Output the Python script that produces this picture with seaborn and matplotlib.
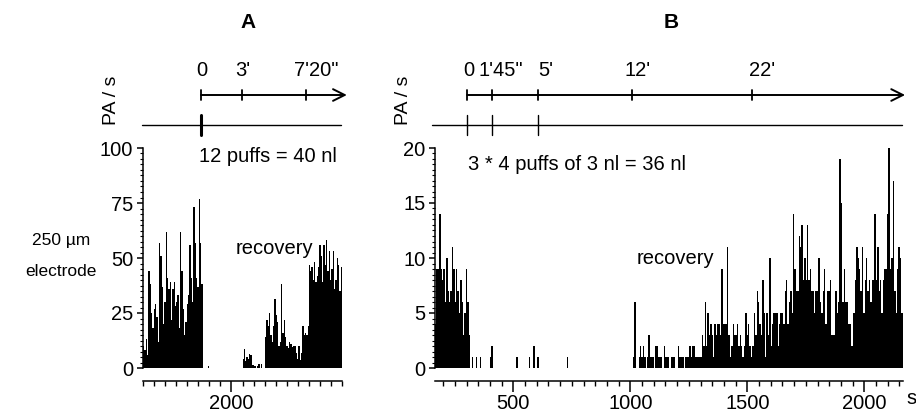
import numpy as np
import pandas as pd
import matplotlib
matplotlib.use("Agg")
import matplotlib.pyplot as plt
import seaborn as sns
from matplotlib.ticker import MultipleLocator, FixedLocator
from matplotlib.transforms import blended_transform_factory

# ---------------- data: panel A (PA/s, 6 s bins) ----------------
a_bin = 6
a_xlim = (1600, 2500)
a_burst1_start = 1600
a_burst1 = [10, 8, 13, 6, 44, 38, 25, 18, 27, 29, 23, 12, 57, 51, 37, 20, 30, 62,
            41, 36, 39, 22, 36, 39, 28, 30, 33, 18, 62, 44, 27, 15, 21, 29, 33, 56,
            41, 30, 73, 57, 41, 37, 77, 57, 38]
a_single_t = [1897]
a_single = [1]
a_burst2_start = 2050
a_burst2 = [4, 8.5, 3, 5, 4, 6.5, 5.7, 1.5, 1.5, 1, 0, 1, 2, 0, 2]
a_burst3_start = 2152
a_burst3 = [14, 22, 19, 25, 15, 12, 19, 31.5, 24, 21, 10, 12, 38, 16, 22, 14, 10, 9,
            12, 11, 9.5, 10, 10, 7, 4, 10, 3.5, 7, 19, 15, 16, 15, 19, 47, 44, 46,
            40, 48, 39, 42, 46, 56, 51, 39, 56, 47, 58, 44, 53, 40, 45, 53, 36, 40,
            50, 47, 35, 46]

# ---------------- data: panel B (PA/s, 6 s bins) ----------------
b_bin = 6
b_xlim = (165, 2165)
b_burst1_start = 165
b_burst1 = [4, 9, 9, 14, 9, 8, 9, 6, 10, 7, 6, 7, 11, 9, 6, 9, 7, 5, 8, 6, 3, 5, 9, 6, 3]
b_sparse_t = [324, 339, 362, 402, 408, 517, 572, 587, 607, 732]
b_sparse = [1, 1, 1, 1, 2, 1, 1, 2, 1, 1]
b_burst2_start = 1011
b_burst2 = [1, 6, 0, 0, 1, 2, 1, 2, 1, 0,
            1, 3, 1, 1, 1, 0, 2, 2, 1, 1,
            1, 0, 2, 1, 1, 1, 0, 1, 1, 1,
            0, 0, 2, 1, 1, 1, 0, 1, 1, 1,
            2, 1, 2, 2, 1, 1, 1, 1, 1, 3,
            2, 6, 2, 5, 3, 4, 3, 1, 4, 3,
            4, 4, 3, 9, 4, 4, 4, 11, 3, 1,
            2, 4, 3, 3, 4, 2, 3, 2, 1, 2,
            5, 3, 4, 2, 1, 2, 5, 3, 7, 6,
            4, 3, 8, 5, 1, 5, 3, 10, 2, 4,
            5, 5, 5, 2, 4, 5, 5, 4, 7, 8,
            4, 6, 7, 5, 14, 9, 7, 7, 12, 11,
            13, 8, 10, 8, 13, 8, 9, 7, 7, 5,
            7, 7, 10, 6, 5, 7, 9, 4, 7, 7,
            8, 3, 3, 3, 7, 5, 6, 19, 15, 6,
            9, 6, 6, 4, 4, 2, 2, 5, 8, 11,
            10, 9, 7, 11, 5, 8, 10, 7, 8, 6,
            8, 8, 14, 8, 11, 7, 8, 5, 8, 9,
            9, 14, 20, 9, 10, 17, 7, 5, 9, 11,
            10, 5, 10]

# ---------------- header annotations (time in s) ----------------
a_tl_ticks = [1862, 2047, 2337]
a_tl_label_t = [1865, 2049, 2383]
a_tl_labels = ["0", "3'", "7'20\""]
a_tl_span = (1862, 2522)
a_puff_span = (1596, 2495)
a_puff_t = [1862]

b_tl_ticks = [302, 409, 605, 1007, 1520]
b_tl_label_t = [310, 447, 639, 1032, 1562]
b_tl_labels = ["0", "1'45\"", "5'", "12'", "22'"]
b_tl_span = (302, 2174)
b_puff_span = (152, 2161)
b_puff_t = [302, 409, 605]


def burst_times(start, n, w):
    return start + w * (np.arange(n) + 0.5)


dfA = pd.DataFrame({
    "t": np.concatenate([burst_times(a_burst1_start, len(a_burst1), a_bin),
                         np.array(a_single_t, float),
                         burst_times(a_burst2_start, len(a_burst2), a_bin),
                         burst_times(a_burst3_start, len(a_burst3), a_bin)]),
    "pa": np.concatenate([a_burst1, a_single, a_burst2, a_burst3]).astype(float),
})
dfB = pd.DataFrame({
    "t": np.concatenate([burst_times(b_burst1_start, len(b_burst1), b_bin),
                         np.array(b_sparse_t, float),
                         burst_times(b_burst2_start, len(b_burst2), b_bin)]),
    "pa": np.concatenate([b_burst1, b_sparse, b_burst2]).astype(float),
})

sns.set_theme(style="ticks")
plt.rcParams["font.family"] = ["Liberation Sans", "DejaVu Sans"]
for k in ["text.color", "axes.edgecolor", "xtick.color", "ytick.color", "axes.labelcolor"]:
    plt.rcParams[k] = "black"
plt.rcParams["axes.linewidth"] = 1.1

W, H = 916, 412
fig = plt.figure(figsize=(W / 100, H / 100), dpi=100)


def fx(px):
    return px / W


def fy(py):
    return 1 - py / H


axA = fig.add_axes([fx(143), fy(368), (342 - 143) / W, 220 / H])
axB = fig.add_axes([fx(435), fy(368), (903 - 435) / W, 220 / H])

a_edges = [float(e) for e in np.arange(a_xlim[0], a_xlim[1] + a_bin / 2, a_bin)]
b_edges = [float(e) for e in np.arange(b_xlim[0], b_xlim[1] + b_bin / 2, b_bin)]
sns.histplot(data=dfA, x="t", weights="pa", bins=a_edges,
             color="black", alpha=1, linewidth=0, ax=axA)
sns.histplot(data=dfB, x="t", weights="pa", bins=b_edges,
             color="black", alpha=1, linewidth=0, ax=axB)

FS = 14.5


def style(ax, ymaj, ymin, xmaj):
    ax.set_xlabel("")
    ax.set_ylabel("")
    ax.grid(False)
    sns.despine(ax=ax)
    ax.spines["bottom"].set_position(("outward", 9))
    ax.xaxis.set_major_locator(FixedLocator(xmaj))
    ax.xaxis.set_minor_locator(MultipleLocator(50))
    ax.yaxis.set_major_locator(MultipleLocator(ymaj))
    ax.yaxis.set_minor_locator(MultipleLocator(ymin))
    ax.tick_params(axis="both", which="both", direction="out", colors="black")
    ax.tick_params(axis="both", which="major", labelsize=FS, width=1.1)
    ax.tick_params(axis="y", which="major", length=4.5, pad=2.5)
    ax.tick_params(axis="y", which="minor", length=2.2, width=0.8)
    ax.tick_params(axis="x", which="major", length=8, pad=1.5)
    ax.tick_params(axis="x", which="minor", length=3.6, width=1.0)


def header(ax, tl_span, tl_ticks, lab_t, labels, puff_span, puff_t, puff_lw):
    tr = blended_transform_factory(ax.transData, ax.transAxes)
    y_tl = (368 - 95) / 220
    y_lab = (368 - 70) / 220
    y_pf = (368 - 125) / 220
    ax.annotate("", xy=(tl_span[1], y_tl), xytext=(tl_span[0], y_tl),
                xycoords=tr, textcoords=tr, annotation_clip=False,
                arrowprops=dict(arrowstyle="->,head_length=0.7,head_width=0.35",
                                lw=1.4, color="black", shrinkA=0, shrinkB=0))
    for t in tl_ticks:
        ax.plot([t, t], [y_tl - 5 / 220, y_tl + 5 / 220], color="black", lw=1.3,
                transform=tr, clip_on=False)
    for t, s in zip(lab_t, labels):
        ax.text(t, y_lab, s, transform=tr, ha="center", va="center",
                fontsize=FS, clip_on=False)
    ax.plot(list(puff_span), [y_pf, y_pf], color="black", lw=1.0,
            transform=tr, clip_on=False)
    for t in puff_t:
        ax.plot([t, t], [(368 - 115) / 220, (368 - 135) / 220], color="black",
                lw=puff_lw, transform=tr, clip_on=False)


header(axA, a_tl_span, a_tl_ticks, a_tl_label_t, a_tl_labels, a_puff_span, a_puff_t, 2.2)
header(axB, b_tl_span, b_tl_ticks, b_tl_label_t, b_tl_labels, b_puff_span, b_puff_t, 1.0)

style(axA, 25, 2.5, [2000])
style(axB, 5, 0.5, [500, 1000, 1500, 2000])
axA.set_xlim(*a_xlim)
axA.set_ylim(0, 100)
axB.set_xlim(*b_xlim)
axB.set_ylim(0, 20)

# texts
fig.text(fx(248), fy(23), "A", fontsize=15, fontweight="bold", ha="center", va="center")
fig.text(fx(671), fy(23), "B", fontsize=15, fontweight="bold", ha="center", va="center")
fig.text(fx(112), fy(100), "PA / s", fontsize=14, rotation=90, ha="center", va="center")
fig.text(fx(404), fy(100), "PA / s", fontsize=14, rotation=90, ha="center", va="center")
fig.text(fx(61), fy(241), "250 µm", fontsize=12.5, ha="center", va="center")
fig.text(fx(61), fy(271), "electrode", fontsize=12.5, ha="center", va="center")
fig.text(fx(268), fy(157), "12 puffs = 40 nl", fontsize=FS, ha="center", va="center")
fig.text(fx(274), fy(249), "recovery", fontsize=FS, ha="center", va="center")
fig.text(fx(577), fy(164), "3 * 4 puffs of 3 nl = 36 nl", fontsize=FS, ha="center", va="center")
fig.text(fx(675), fy(259), "recovery", fontsize=FS, ha="center", va="center")
fig.text(fx(911), fy(399), "s", fontsize=FS, ha="center", va="center")

fig.savefig("out.png", dpi=100, facecolor="white")
